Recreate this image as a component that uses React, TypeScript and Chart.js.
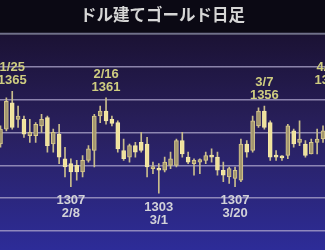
import React, { useEffect, useRef } from "react";
import { Chart, registerables } from "chart.js";

Chart.register(...registerables);

const TITLE = "ドル建てゴールド日足";

const dates = [
  "1/23", "1/24", "1/25", "1/26", "1/29", "1/30", "1/31", "2/1", "2/2", "2/5",
  "2/6", "2/7", "2/8", "2/9", "2/12", "2/13", "2/14", "2/15", "2/16", "2/19",
  "2/20", "2/21", "2/22", "2/23", "2/26", "2/27", "2/28", "3/1", "3/2", "3/5",
  "3/6", "3/7", "3/8", "3/9", "3/12", "3/13", "3/14", "3/15", "3/16", "3/19",
  "3/20", "3/21", "3/22", "3/23", "3/26", "3/27", "3/28", "3/29", "3/30", "4/2",
  "4/3", "4/4", "4/5", "4/6", "4/9", "4/10", "4/11",
];

const opens = [
  1333, 1342, 1358, 1348, 1348, 1338, 1338, 1344, 1349, 1333,
  1339, 1324, 1321, 1320, 1316, 1323, 1329, 1350, 1353, 1348,
  1346, 1329, 1325, 1332, 1334, 1333, 1318, 1318, 1317, 1320,
  1320, 1335, 1325, 1321, 1322, 1323, 1326, 1325, 1317, 1313,
  1312, 1311, 1333, 1329, 1344, 1353, 1346, 1326, 1325, 1326,
  1341, 1334, 1333, 1327, 1334, 1336, 1341,
];
const highs = [
  1344, 1361, 1365, 1356, 1350, 1348, 1346, 1351, 1350, 1342,
  1345, 1331, 1324, 1323, 1326, 1332, 1351, 1356, 1361, 1350,
  1347, 1336, 1333, 1334, 1340, 1337, 1322, 1321, 1325, 1328,
  1336, 1340, 1328, 1324, 1324, 1328, 1330, 1328, 1322, 1319,
  1319, 1336, 1335, 1350, 1355, 1356, 1347, 1329, 1326, 1345,
  1342, 1347, 1335, 1336, 1342, 1344, 1365,
];
const lows = [
  1331, 1341, 1342, 1343, 1337, 1334, 1334, 1340, 1328, 1328,
  1321, 1313, 1307, 1311, 1313, 1322, 1319, 1346, 1345, 1344,
  1328, 1323, 1322, 1325, 1328, 1313, 1315, 1303, 1316, 1318,
  1319, 1325, 1321, 1314, 1315, 1321, 1322, 1314, 1310, 1309,
  1307, 1310, 1325, 1328, 1343, 1342, 1323, 1323, 1323, 1324,
  1331, 1332, 1325, 1327, 1327, 1334, 1339,
];
const closes = [
  1342, 1359, 1343, 1350, 1339, 1340, 1345, 1348, 1332, 1340,
  1325, 1319, 1316, 1316, 1323, 1330, 1350, 1353, 1347, 1345.5,
  1330, 1324, 1332, 1328, 1329, 1319, 1318.8, 1317, 1322, 1324,
  1335, 1327, 1322, 1323, 1323.5, 1326, 1325, 1317, 1314, 1318,
  1317, 1333, 1328, 1347, 1353, 1343, 1325, 1325, 1324.5, 1344,
  1333, 1336, 1326, 1334, 1336, 1341, 1353,
];

// peak / trough annotations (index into the series, text shown)
const peakIdx = [2, 18, 45, 56];
const peakText = ["1/25", "2/16", "3/7", "4/11"];
const troughIdx = [12, 27, 40];
const troughText = ["2/8", "3/1", "3/20"];

const gridTicks = [1280, 1300, 1320, 1340, 1360, 1380];

const LABEL_FONT = 'bold 13px "Liberation Sans Narrow", "Liberation Sans", Arial, sans-serif';

export default function App() {
  const ref = useRef<HTMLCanvasElement | null>(null);

  useEffect(() => {
    const canvas = ref.current;
    if (!canvas) return;

    const idx = dates.map((_, i) => i);
    const upFill = "#a39670";
    const downFill = "#f0e29c";
    const upBorder = "#d8c98a";
    const downBorder = "#f4e8aa";

    const bgPlugin = {
      id: "bg",
      beforeDraw(chart: any) {
        const { ctx, chartArea, width, height } = chart;
        ctx.save();
        ctx.fillStyle = "#0b0914";
        ctx.fillRect(0, 0, width, height);
        const g = ctx.createLinearGradient(0, chartArea.top, 0, height);
        g.addColorStop(0, "#1b1234");
        g.addColorStop(0.45, "#29205e");
        g.addColorStop(1, "#2d2c98");
        ctx.fillStyle = g;
        ctx.fillRect(0, chartArea.top, width, height - chartArea.top);
        ctx.strokeStyle = "#70708a";
        ctx.lineWidth = 2;
        ctx.beginPath();
        ctx.moveTo(0, chartArea.top - 1);
        ctx.lineTo(width, chartArea.top - 1);
        ctx.stroke();
        ctx.restore();
      },
    };

    const labelPlugin = {
      id: "hilo",
      afterDatasetsDraw(chart: any) {
        const { ctx } = chart;
        const xs = chart.scales.x;
        const ys = chart.scales.y;
        ctx.save();
        ctx.font = LABEL_FONT;
        ctx.textAlign = "center";
        ctx.textBaseline = "middle";
        ctx.fillStyle = "#cfcd80";
        peakIdx.forEach((i, k) => {
          const x = xs.getPixelForValue(i);
          const y = ys.getPixelForValue(highs[i]);
          ctx.fillText(String(Math.round(highs[i])), x, y - 11);
          ctx.fillText(peakText[k], x, y - 24);
        });
        ctx.fillStyle = "#d2d2d8";
        troughIdx.forEach((i, k) => {
          const x = xs.getPixelForValue(i);
          const y = ys.getPixelForValue(lows[i]);
          ctx.fillText(String(Math.round(lows[i])), x, y + 14);
          ctx.fillText(troughText[k], x, y + 27);
        });
        ctx.restore();
      },
    };

    const chart = new Chart(canvas, {
      type: "bar",
      data: {
        datasets: [
          {
            label: "body",
            data: idx.map((i) => ({ x: i, y: [opens[i], closes[i]] })) as any,
            backgroundColor: idx.map((i) => (closes[i] >= opens[i] ? upFill : downFill)),
            borderColor: idx.map((i) => (closes[i] >= opens[i] ? upBorder : downBorder)),
            borderWidth: 1,
            borderSkipped: false,
            barThickness: 4,
            minBarLength: 2,
            grouped: false,
            order: 1,
          } as any,
          {
            label: "wick",
            data: idx.map((i) => ({ x: i, y: [lows[i], highs[i]] })) as any,
            backgroundColor: "#c9bd8c",
            borderWidth: 0,
            barThickness: 1,
            grouped: false,
            order: 2,
          } as any,
        ],
      },
      options: {
        animation: false,
        responsive: false,
        maintainAspectRatio: false,
        layout: { padding: 0 },
        plugins: {
          legend: { display: false },
          tooltip: { enabled: false },
          title: {
            display: true,
            text: TITLE,
            color: "#d6d6d6",
            font: { family: '"Noto Sans CJK JP", sans-serif', size: 16.5, weight: "bold" },
            padding: { top: 5, bottom: 10 },
          },
        },
        scales: {
          x: {
            type: "linear",
            display: false,
            min: -0.085,
            max: 55.34,
            offset: false,
          },
          y: {
            type: "linear",
            min: 1268.5,
            max: 1399.4,
            afterFit: (s: any) => {
              s.width = 0;
            },
            afterBuildTicks: (s: any) => {
              s.ticks = gridTicks.map((v) => ({ value: v }));
            },
            ticks: { display: false, includeBounds: false },
            border: { display: false },
            grid: {
              color: "rgba(175,168,205,0.75)",
              lineWidth: 1.5,
              drawTicks: false,
            },
          },
        },
      } as any,
      plugins: [bgPlugin, labelPlugin],
    });

    return () => chart.destroy();
  }, []);

  return (
    <div style={{ position: "fixed", left: 0, top: 0, width: 325, height: 250 }}>
      <canvas ref={ref} width={325} height={250} style={{ display: "block" }} />
    </div>
  );
}
